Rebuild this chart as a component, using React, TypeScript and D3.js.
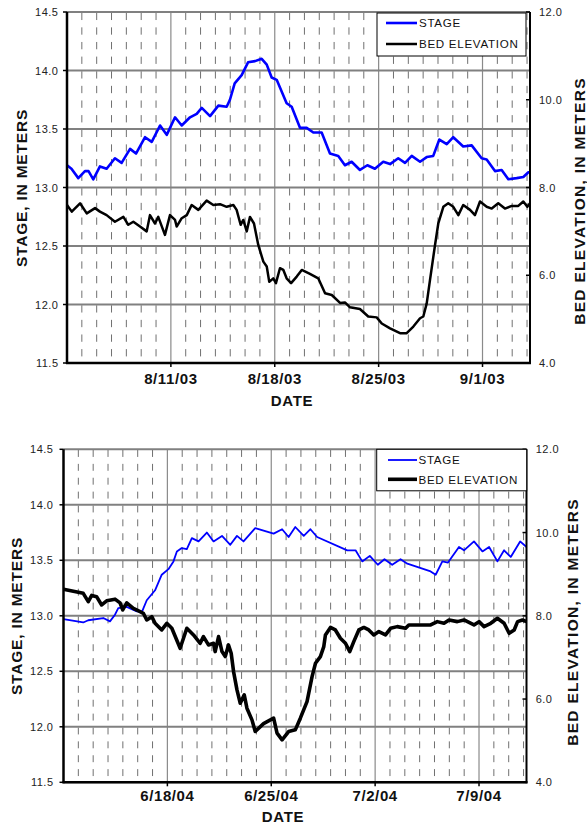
import React from 'react';
import * as d3 from 'd3';

// ---------- DATA ----------
// days since start of each panel's time axis
const stage2003: [number, number][] = [
  [0, 13.19], [0.3, 13.16], [0.76, 13.08], [1.21, 13.14], [1.45, 13.14], [1.77, 13.07], [2.22, 13.18], [2.67, 13.16],
  [3.23, 13.25], [3.68, 13.21], [4.25, 13.33], [4.65, 13.29], [5.26, 13.43], [5.71, 13.39], [6.27, 13.53], [6.72, 13.45],
  [7.28, 13.6], [7.73, 13.53], [8.29, 13.6], [8.74, 13.63], [9.08, 13.68], [9.64, 13.61], [10.2, 13.7], [10.76, 13.69],
  [10.98, 13.75], [11.3, 13.89], [11.77, 13.96], [12.2, 14.07], [12.67, 14.08], [13.12, 14.1], [13.46, 14.05], [13.79, 13.94],
  [14.13, 13.92], [14.8, 13.72], [15.14, 13.69], [15.7, 13.51], [16.15, 13.51], [16.6, 13.47], [17.16, 13.47], [17.72, 13.29],
  [18.28, 13.27], [18.73, 13.19], [19.18, 13.22], [19.74, 13.15], [20.24, 13.19], [20.75, 13.16], [21.31, 13.22], [21.77, 13.2],
  [22.32, 13.25], [22.78, 13.21], [23.23, 13.27], [23.79, 13.22], [24.24, 13.26], [24.68, 13.27], [25.09, 13.41], [25.59, 13.37],
  [26.03, 13.43], [26.7, 13.35], [27.27, 13.36], [27.94, 13.25], [28.28, 13.24], [28.84, 13.14], [29.29, 13.15], [29.74, 13.07],
  [30.3, 13.08], [30.75, 13.09], [31.09, 13.13], [31.2, 13.13],
];

const bed2003: [number, number][] = [
  [0, 7.6], [0.32, 7.45], [0.88, 7.64], [1.33, 7.41], [1.89, 7.53], [2.22, 7.45], [2.67, 7.37], [3.23, 7.22], [3.8, 7.33],
  [4.13, 7.15], [4.47, 7.22], [4.92, 7.11], [5.37, 7.0], [5.59, 7.37], [5.93, 7.18], [6.15, 7.33], [6.6, 6.92], [6.94, 7.37],
  [7.28, 7.26], [7.39, 7.11], [7.73, 7.3], [8.07, 7.37], [8.4, 7.6], [8.85, 7.49], [9.41, 7.7], [9.86, 7.6], [10.31, 7.62],
  [10.76, 7.56], [11.21, 7.6], [11.43, 7.49], [11.7, 7.15], [11.88, 7.26], [12.11, 7.0], [12.33, 7.33], [12.6, 7.18],
  [12.89, 6.69], [13.23, 6.31], [13.46, 6.2], [13.63, 5.85], [13.9, 5.93], [14.08, 5.82], [14.35, 6.16], [14.58, 6.12],
  [14.8, 5.93], [15.1, 5.82], [15.48, 5.97], [15.82, 6.12], [16.37, 6.03], [16.93, 5.93], [17.39, 5.59], [17.84, 5.55],
  [18.4, 5.37], [18.73, 5.38], [19.07, 5.27], [19.74, 5.23], [20.3, 5.06], [20.87, 5.04], [21.21, 4.9], [21.77, 4.79],
  [22.44, 4.68], [22.89, 4.68], [23.34, 4.83], [23.79, 5.02], [24.01, 5.06], [24.24, 5.36], [24.46, 5.89], [24.8, 6.69],
  [25.02, 7.18], [25.36, 7.56], [25.69, 7.64], [26.03, 7.56], [26.37, 7.37], [26.7, 7.6], [27.16, 7.49], [27.49, 7.37],
  [27.83, 7.68], [28.28, 7.56], [28.62, 7.52], [29.06, 7.64], [29.51, 7.52], [29.97, 7.58], [30.41, 7.58], [30.75, 7.68],
  [31.02, 7.56], [31.2, 7.64],
];

const stage2004: [number, number][] = [
  [0, 12.97], [1.33, 12.94], [1.67, 12.96], [2.68, 12.98], [3.13, 12.95], [3.47, 13.01], [3.69, 13.07], [4.26, 13.08],
  [4.94, 13.04], [5.3, 13.04], [5.61, 13.14], [6.17, 13.23], [6.62, 13.37], [7.07, 13.42], [7.41, 13.49], [7.64, 13.58],
  [7.97, 13.61], [8.31, 13.6], [8.65, 13.7], [9.1, 13.67], [9.66, 13.75], [10.11, 13.67], [10.68, 13.72], [11.24, 13.64],
  [11.69, 13.72], [12.13, 13.67], [12.92, 13.79], [14.16, 13.74], [14.73, 13.78], [15.17, 13.71], [15.62, 13.8],
  [16.19, 13.72], [16.64, 13.78], [17.09, 13.71], [19.12, 13.59], [19.68, 13.59], [20.13, 13.49], [20.64, 13.54],
  [21.18, 13.46], [21.63, 13.51], [22.15, 13.46], [22.71, 13.51], [23.17, 13.47], [24.74, 13.4], [25.08, 13.37],
  [25.53, 13.49], [25.91, 13.48], [26.65, 13.62], [26.99, 13.59], [27.66, 13.67], [28.23, 13.58], [28.68, 13.62],
  [29.24, 13.49], [29.69, 13.59], [30.14, 13.53], [30.77, 13.67], [31.2, 13.62],
];

const bed2004: [number, number][] = [
  [0, 8.64], [1.33, 8.54], [1.67, 8.34], [1.9, 8.49], [2.23, 8.46], [2.57, 8.26], [2.91, 8.36], [3.47, 8.4], [3.81, 8.31],
  [3.99, 8.14], [4.26, 8.31], [4.71, 8.18], [5.16, 8.1], [5.38, 8.06], [5.61, 7.9], [5.95, 7.98], [6.17, 7.82], [6.62, 7.66],
  [6.96, 7.82], [7.3, 7.7], [7.86, 7.22], [8.31, 7.7], [8.76, 7.54], [9.21, 7.34], [9.43, 7.5], [9.77, 7.3], [10.11, 7.34],
  [10.22, 7.14], [10.45, 7.5], [10.68, 7.14], [10.9, 7.02], [11.12, 7.3], [11.3, 7.1], [11.46, 6.66], [11.69, 6.22],
  [11.91, 5.9], [12.18, 6.1], [12.36, 5.78], [12.7, 5.5], [12.92, 5.22], [13.48, 5.41], [14.16, 5.54], [14.39, 5.18],
  [14.73, 5.02], [15.17, 5.22], [15.62, 5.26], [15.96, 5.54], [16.41, 5.94], [16.75, 6.54], [16.98, 6.86], [17.31, 7.02],
  [17.54, 7.26], [17.65, 7.54], [17.99, 7.72], [18.32, 7.66], [18.66, 7.46], [19.0, 7.34], [19.29, 7.14], [19.56, 7.38],
  [19.9, 7.66], [20.24, 7.72], [20.57, 7.66], [20.91, 7.54], [21.25, 7.62], [21.7, 7.54], [22.04, 7.7], [22.49, 7.74],
  [23.05, 7.7], [23.27, 7.78], [24.74, 7.78], [25.19, 7.86], [25.64, 7.82], [25.98, 7.9], [26.54, 7.86], [26.99, 7.9],
  [27.66, 7.78], [28.0, 7.86], [28.34, 7.74], [28.79, 7.82], [29.24, 7.94], [29.69, 7.82], [30.03, 7.58], [30.37, 7.66],
  [30.6, 7.86], [30.93, 7.9], [31.2, 7.86],
];

const dateLabels2003 = ['8/11/03', '8/18/03', '8/25/03', '9/1/03'];
const dateLabels2004 = ['6/18/04', '6/25/04', '7/2/04', '7/9/04'];
const majorDays = [7, 14, 21, 28];
const dayDomain: [number, number] = [0, 31.2];
const stageTicks = [11.5, 12.0, 12.5, 13.0, 13.5, 14.0, 14.5];
const bedTicks = [4, 6, 8, 10, 12];
const seriesNames = ['STAGE', 'BED ELEVATION'];
const xTitle = 'DATE';
const leftTitle = 'STAGE, IN METERS';
const rightTitle = 'BED ELEVATION, IN METERS';

// ---------- STYLE ----------
const FONT = "'Liberation Sans', Arial, Helvetica, sans-serif";
const BLUE = '#0000ff';

interface Layout {
  left: number; right: number; top: number; bottom: number;
  legend: { x: number; y: number; w: number; h: number; l1: number; l2: number; lx1: number; lx2: number; tx: number };
  xLabelY: number; dateY: number; dateX: number;
  leftTitleX: number; leftTitleY: number; rightTitleX: number; rightTitleY: number;
  leftLabelX: number; rightLabelX: number;
  stageW: number; bedW: number; bedLegendW: number;
}

function Panel({ L, stage, bed, labels }: { L: Layout; stage: [number, number][]; bed: [number, number][]; labels: string[] }) {
  const x = d3.scaleLinear().domain(dayDomain).range([L.left, L.right]);
  const yL = d3.scaleLinear().domain([11.5, 14.5]).range([L.bottom, L.top]);
  const yR = d3.scaleLinear().domain([4, 12]).range([L.bottom, L.top]);
  const stageLine = d3.line<[number, number]>().x(d => x(d[0])).y(d => yL(d[1]));
  const bedLine = d3.line<[number, number]>().x(d => x(d[0])).y(d => yR(d[1]));
  const h = L.bottom - L.top;
  const period = h / 24;
  const minorDays = d3.range(1, Math.floor(dayDomain[1]) + 1).filter(d => !majorDays.includes(d));

  return (
    <g>
      {minorDays.map(d => (
        <line key={'m' + d} x1={x(d)} x2={x(d)} y1={L.top} y2={L.bottom}
          stroke="#707070" strokeWidth={1} strokeDasharray={`${period * 0.5},${period * 0.5}`}
          strokeDashoffset={-period * 0.05} />
      ))}
      {majorDays.map(d => (
        <line key={'M' + d} x1={x(d)} x2={x(d)} y1={L.top} y2={L.bottom} stroke="#8a8a8a" strokeWidth={1.2} />
      ))}
      {stageTicks.map(t => (
        <line key={'h' + t} x1={L.left} x2={L.right} y1={yL(t)} y2={yL(t)} stroke="#808080" strokeWidth={2} />
      ))}
      <path d={stageLine(stage) || ''} fill="none" stroke={BLUE} strokeWidth={L.stageW} strokeLinejoin="round" />
      <path d={bedLine(bed) || ''} fill="none" stroke="#000" strokeWidth={L.bedW} strokeLinejoin="round" />
      <line x1={L.left} x2={L.left} y1={L.top} y2={L.bottom + 1} stroke="#000" strokeWidth={2.5} />
      <line x1={L.left - 1} x2={L.right + 1} y1={L.bottom} y2={L.bottom} stroke="#000" strokeWidth={2.5} />
      <line x1={L.right} x2={L.right} y1={L.top} y2={L.bottom + 1} stroke="#000" strokeWidth={2} />
      {stageTicks.map(t => (
        <g key={'lt' + t}>
          <line x1={L.left - 4} x2={L.left} y1={yL(t)} y2={yL(t)} stroke="#000" strokeWidth={1.5} />
          <text x={L.leftLabelX} y={yL(t) + 4} textAnchor="end" fontSize={11} letterSpacing={0.5}
            fontFamily={FONT} fill="#222">{t.toFixed(1)}</text>
        </g>
      ))}
      {bedTicks.map(t => (
        <g key={'rt' + t}>
          <line x1={L.right - 4} x2={L.right} y1={yR(t)} y2={yR(t)} stroke="#000" strokeWidth={1.5} />
          <text x={L.rightLabelX} y={yR(t) + 4} textAnchor="start" fontSize={11} letterSpacing={0.5}
            fontFamily={FONT} fill="#222">{t.toFixed(1)}</text>
        </g>
      ))}
      {majorDays.map((d, i) => (
        <g key={'xt' + d}>
          <line x1={x(d)} x2={x(d)} y1={L.bottom} y2={L.bottom + 4} stroke="#000" strokeWidth={1.5} />
          <text x={x(d)} y={L.xLabelY} textAnchor="middle" fontSize={15} fontWeight="bold" letterSpacing={0.6}
            fontFamily={FONT} fill="#111">{labels[i]}</text>
        </g>
      ))}
      <text x={L.dateX} y={L.dateY} textAnchor="middle" fontSize={15} fontWeight="bold" letterSpacing={0.7}
        fontFamily={FONT} fill="#111">{xTitle}</text>
      <text transform={`translate(${L.leftTitleX},${L.leftTitleY}) rotate(-90)`} textAnchor="middle" fontSize={15.5}
        fontWeight="bold" letterSpacing={0.8} fontFamily={FONT} fill="#111">{leftTitle}</text>
      <text transform={`translate(${L.rightTitleX},${L.rightTitleY}) rotate(-90)`} textAnchor="middle" fontSize={15.5}
        fontWeight="bold" letterSpacing={1.3} fontFamily={FONT} fill="#111">{rightTitle}</text>
      <rect x={L.legend.x} y={L.legend.y} width={L.legend.w} height={L.legend.h} fill="#fff" stroke="#000" strokeWidth={1} />
      <line x1={L.legend.lx1} x2={L.legend.lx2} y1={L.legend.l1} y2={L.legend.l1} stroke={BLUE} strokeWidth={L.stageW} />
      <line x1={L.legend.lx1} x2={L.legend.lx2} y1={L.legend.l2} y2={L.legend.l2} stroke="#000" strokeWidth={L.bedLegendW} />
      <text x={L.legend.tx} y={L.legend.l1 + 4.3} fontSize={11.6} letterSpacing={0.7} fontFamily={FONT} fill="#111">{seriesNames[0]}</text>
      <text x={L.legend.tx} y={L.legend.l2 + 4.3} fontSize={11.6} letterSpacing={0.7} fontFamily={FONT} fill="#111">{seriesNames[1]}</text>
    </g>
  );
}

const topLayout: Layout = {
  left: 67, right: 530, top: 12, bottom: 363,
  legend: { x: 377, y: 13, w: 149, h: 43, l1: 23, l2: 44, lx1: 386, lx2: 417, tx: 419 },
  xLabelY: 384, dateY: 405.5, dateX: 292,
  leftTitleX: 26.5, leftTitleY: 188, rightTitleX: 585, rightTitleY: 201,
  leftLabelX: 58.5, rightLabelX: 539,
  stageW: 2.6, bedW: 2.5, bedLegendW: 2.5,
};

const bottomLayout: Layout = {
  left: 63.5, right: 526.5, top: 449.3, bottom: 782.3,
  legend: { x: 376.7, y: 449.3, w: 150, h: 41.5, l1: 460, l2: 479.3, lx1: 388, lx2: 417, tx: 418.5 },
  xLabelY: 800.5, dateY: 822, dateX: 283,
  leftTitleX: 21.7, leftTitleY: 616, rightTitleX: 578, rightTitleY: 622,
  leftLabelX: 53.5, rightLabelX: 535.7,
  stageW: 1.8, bedW: 3.6, bedLegendW: 3.6,
};

export default function App() {
  return (
    <svg width={587} height={825} style={{ position: 'absolute', left: 0, top: 0, background: '#fff' }}>
      <rect x={0} y={0} width={587} height={825} fill="#fff" />
      <Panel L={topLayout} stage={stage2003} bed={bed2003} labels={dateLabels2003} />
      <Panel L={bottomLayout} stage={stage2004} bed={bed2004} labels={dateLabels2004} />
    </svg>
  );
}
